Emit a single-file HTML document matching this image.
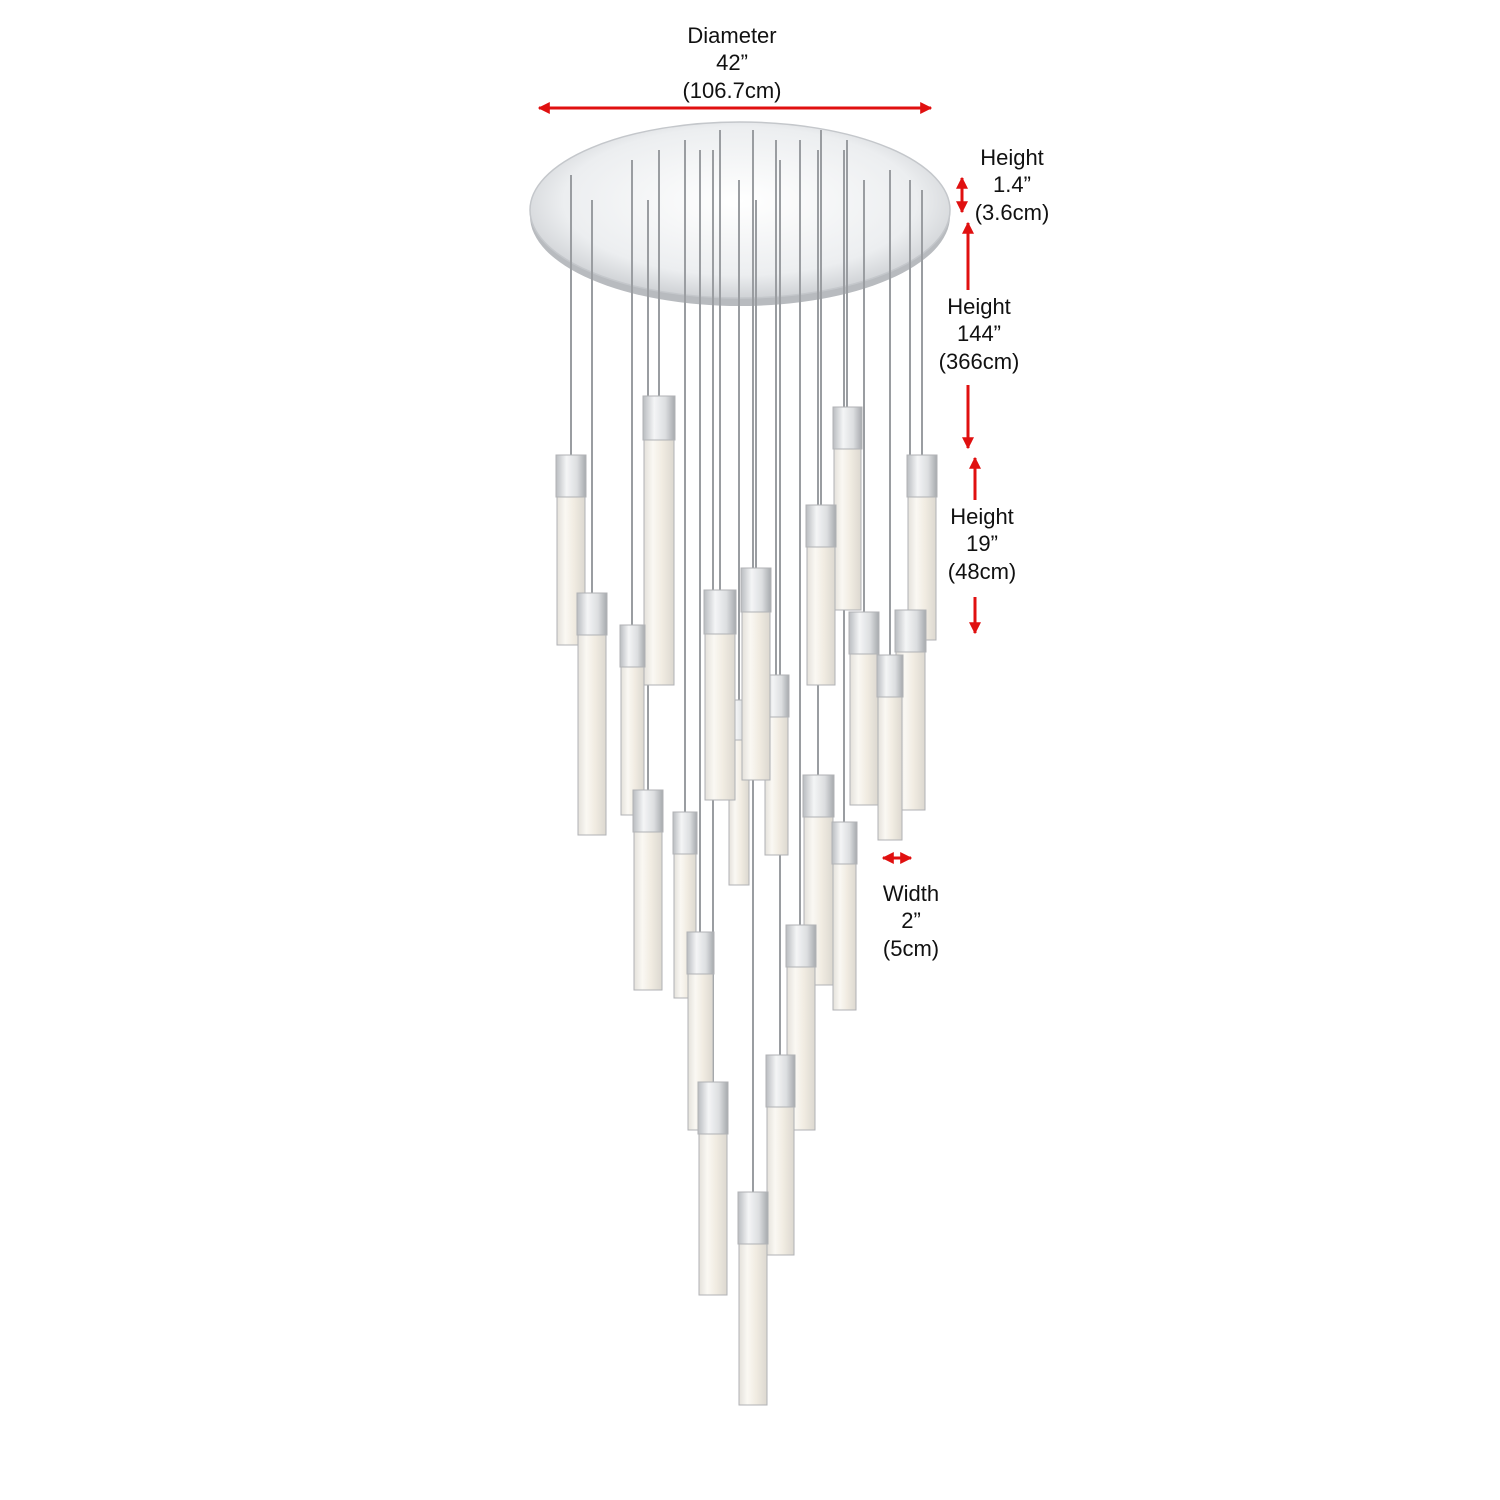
<!DOCTYPE html>
<html><head><meta charset="utf-8"><style>
html,body{margin:0;padding:0;background:#fff;}
svg{display:block;}
text{font-family:"Liberation Sans",sans-serif;font-size:22px;fill:#111;text-anchor:middle;}
</style></head><body>
<svg width="1500" height="1500" viewBox="0 0 1500 1500" xmlns="http://www.w3.org/2000/svg">
<defs>
<linearGradient id="cap" x1="0" x2="1">
<stop offset="0" stop-color="#b9bcc0"/><stop offset="0.35" stop-color="#f4f5f6"/><stop offset="0.7" stop-color="#dcdee0"/><stop offset="1" stop-color="#a6a9ad"/>
</linearGradient>
<linearGradient id="glass" x1="0" x2="1">
<stop offset="0" stop-color="#e4e1db"/><stop offset="0.3" stop-color="#faf8f3"/><stop offset="0.6" stop-color="#f1ece2"/><stop offset="1" stop-color="#dcd8d0"/>
</linearGradient>
<radialGradient id="plate" cx="0.5" cy="0.45" r="0.6">
<stop offset="0" stop-color="#ffffff"/><stop offset="0.7" stop-color="#eceef0"/><stop offset="1" stop-color="#c4c7cb"/>
</radialGradient>
<marker id="ah" viewBox="0 0 10 10" refX="9" refY="5" markerWidth="4" markerHeight="4" orient="auto-start-reverse">
<path d="M0,0 L10,5 L0,10 z" fill="#e01010"/>
</marker>
</defs>

<!-- canopy -->
<ellipse cx="740" cy="216" rx="210" ry="90" fill="#b8bbbf"/>
<ellipse cx="740" cy="210" rx="210" ry="88" fill="url(#plate)" stroke="#c4c7cb" stroke-width="1.5"/>

<!-- wires -->
<g stroke="#9a9da1" stroke-width="2">
<line x1="571" y1="175" x2="571" y2="455"/>
<line x1="592" y1="200" x2="592" y2="593"/>
<line x1="632" y1="160" x2="632" y2="625"/>
<line x1="659" y1="150" x2="659" y2="396"/>
<line x1="648" y1="200" x2="648" y2="790"/>
<line x1="685" y1="140" x2="685" y2="812"/>
<line x1="700" y1="150" x2="700" y2="932"/>
<line x1="720" y1="130" x2="720" y2="590"/>
<line x1="713" y1="150" x2="713" y2="1082"/>
<line x1="739" y1="180" x2="739" y2="700"/>
<line x1="753" y1="130" x2="753" y2="1192"/>
<line x1="756" y1="200" x2="756" y2="568"/>
<line x1="776" y1="140" x2="776" y2="675"/>
<line x1="780" y1="160" x2="780" y2="1055"/>
<line x1="800" y1="140" x2="800" y2="925"/>
<line x1="818" y1="150" x2="818" y2="775"/>
<line x1="821" y1="130" x2="821" y2="505"/>
<line x1="844" y1="150" x2="844" y2="822"/>
<line x1="847" y1="140" x2="847" y2="407"/>
<line x1="864" y1="180" x2="864" y2="612"/>
<line x1="890" y1="170" x2="890" y2="655"/>
<line x1="910" y1="180" x2="910" y2="610"/>
<line x1="922" y1="190" x2="922" y2="455"/>
</g>

<!-- pendants -->
<g stroke="#b0b2b5" stroke-width="1">
<g><rect x="556" y="455" width="30" height="42" fill="url(#cap)"/><rect x="557" y="497" width="28" height="148" fill="url(#glass)"/></g>
<g><rect x="643" y="396" width="32" height="44" fill="url(#cap)"/><rect x="644" y="440" width="30" height="245" fill="url(#glass)"/></g>
<g><rect x="833" y="407" width="29" height="42" fill="url(#cap)"/><rect x="834" y="449" width="27" height="161" fill="url(#glass)"/></g>
<g><rect x="907" y="455" width="30" height="42" fill="url(#cap)"/><rect x="908" y="497" width="28" height="143" fill="url(#glass)"/></g>
<g><rect x="806" y="505" width="30" height="42" fill="url(#cap)"/><rect x="807" y="547" width="28" height="138" fill="url(#glass)"/></g>
<g><rect x="577" y="593" width="30" height="42" fill="url(#cap)"/><rect x="578" y="635" width="28" height="200" fill="url(#glass)"/></g>
<g><rect x="620" y="625" width="25" height="42" fill="url(#cap)"/><rect x="621" y="667" width="23" height="148" fill="url(#glass)"/></g>
<g><rect x="728" y="700" width="22" height="40" fill="url(#cap)"/><rect x="729" y="740" width="20" height="145" fill="url(#glass)"/></g>
<g><rect x="764" y="675" width="25" height="42" fill="url(#cap)"/><rect x="765" y="717" width="23" height="138" fill="url(#glass)"/></g>
<g><rect x="704" y="590" width="32" height="44" fill="url(#cap)"/><rect x="705" y="634" width="30" height="166" fill="url(#glass)"/></g>
<g><rect x="741" y="568" width="30" height="44" fill="url(#cap)"/><rect x="742" y="612" width="28" height="168" fill="url(#glass)"/></g>
<g><rect x="849" y="612" width="30" height="42" fill="url(#cap)"/><rect x="850" y="654" width="28" height="151" fill="url(#glass)"/></g>
<g><rect x="895" y="610" width="31" height="42" fill="url(#cap)"/><rect x="896" y="652" width="29" height="158" fill="url(#glass)"/></g>
<g><rect x="877" y="655" width="26" height="42" fill="url(#cap)"/><rect x="878" y="697" width="24" height="143" fill="url(#glass)"/></g>
<g><rect x="633" y="790" width="30" height="42" fill="url(#cap)"/><rect x="634" y="832" width="28" height="158" fill="url(#glass)"/></g>
<g><rect x="673" y="812" width="24" height="42" fill="url(#cap)"/><rect x="674" y="854" width="22" height="144" fill="url(#glass)"/></g>
<g><rect x="803" y="775" width="31" height="42" fill="url(#cap)"/><rect x="804" y="817" width="29" height="168" fill="url(#glass)"/></g>
<g><rect x="832" y="822" width="25" height="42" fill="url(#cap)"/><rect x="833" y="864" width="23" height="146" fill="url(#glass)"/></g>
<g><rect x="687" y="932" width="27" height="42" fill="url(#cap)"/><rect x="688" y="974" width="25" height="156" fill="url(#glass)"/></g>
<g><rect x="786" y="925" width="30" height="42" fill="url(#cap)"/><rect x="787" y="967" width="28" height="163" fill="url(#glass)"/></g>
<g><rect x="766" y="1055" width="29" height="52" fill="url(#cap)"/><rect x="767" y="1107" width="27" height="148" fill="url(#glass)"/></g>
<g><rect x="698" y="1082" width="30" height="52" fill="url(#cap)"/><rect x="699" y="1134" width="28" height="161" fill="url(#glass)"/></g>
<g><rect x="738" y="1192" width="30" height="52" fill="url(#cap)"/><rect x="739" y="1244" width="28" height="161" fill="url(#glass)"/></g>
</g>

<!-- dimension arrows -->
<g stroke="#e01010" stroke-width="3" fill="none">
<line x1="539" y1="108" x2="931" y2="108" marker-start="url(#ah)" marker-end="url(#ah)"/>
<line x1="962" y1="178" x2="962" y2="212" marker-start="url(#ah)" marker-end="url(#ah)"/>
<line x1="968" y1="290" x2="968" y2="223" marker-end="url(#ah)"/>
<line x1="968" y1="385" x2="968" y2="448" marker-end="url(#ah)"/>
<line x1="975" y1="500" x2="975" y2="458" marker-end="url(#ah)"/>
<line x1="975" y1="597" x2="975" y2="633" marker-end="url(#ah)"/>
<line x1="883" y1="858" x2="911" y2="858" marker-start="url(#ah)" marker-end="url(#ah)"/>
</g>

<!-- labels -->
<text x="732" y="43">Diameter</text>
<text x="732" y="70">42”</text>
<text x="732" y="98">(106.7cm)</text>
<text x="1012" y="165">Height</text>
<text x="1012" y="192">1.4”</text>
<text x="1012" y="220">(3.6cm)</text>
<text x="979" y="314">Height</text>
<text x="979" y="341">144”</text>
<text x="979" y="369">(366cm)</text>
<text x="982" y="524">Height</text>
<text x="982" y="551">19”</text>
<text x="982" y="579">(48cm)</text>
<text x="911" y="901">Width</text>
<text x="911" y="928">2”</text>
<text x="911" y="956">(5cm)</text>
</svg>
</body></html>
